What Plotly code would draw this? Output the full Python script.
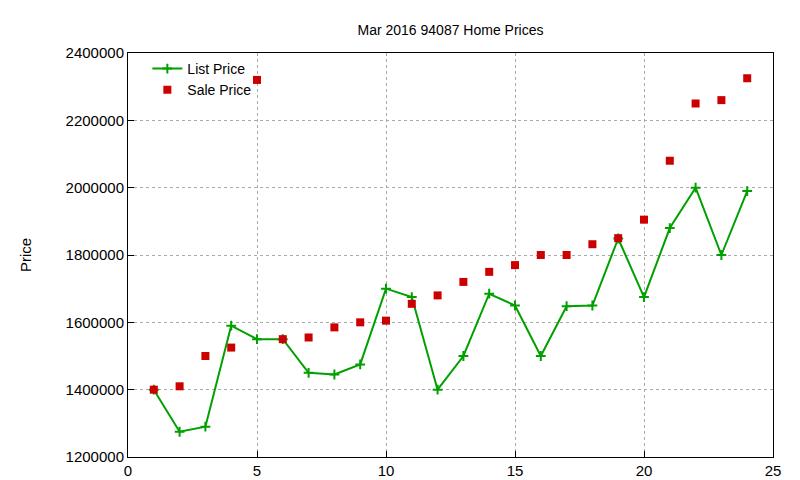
import plotly.graph_objects as go

months = list(range(1, 25))
list_price = [1400000, 1275000, 1290000, 1590000, 1550000, 1550000, 1450000, 1445000,
              1475000, 1700000, 1675000, 1400000, 1500000, 1685000, 1650000, 1500000,
              1648000, 1650000, 1849000, 1675000, 1880000, 2000000, 1800000, 1990000]
sale_price = [1400000, 1410000, 1500000, 1525000, 2320000, 1550000, 1555000, 1585000,
              1600000, 1605000, 1655000, 1680000, 1720000, 1750000, 1770000, 1800000,
              1800000, 1832000, 1850000, 1905000, 2080000, 2250000, 2260000, 2325000]

fig = go.Figure()
fig.add_trace(go.Scatter(x=months, y=list_price, name="List Price", mode="lines+markers",
                         line=dict(color="#00a000", width=2),
                         marker=dict(symbol="cross-thin", size=7, line=dict(color="#00a000", width=2))))
fig.add_trace(go.Scatter(x=months, y=sale_price, name="Sale Price", mode="markers",
                         marker=dict(symbol="square", size=8, color="#cc0000")))

axis_common = dict(showline=True, mirror=True, linecolor="black", linewidth=1,
                   showgrid=True, gridcolor="#aaaaaa", griddash="dot", gridwidth=1,
                   ticks="inside", ticklen=6, tickcolor="black", zeroline=False, automargin=False,
                   tickfont=dict(family="Liberation Sans, Arial", size=15, color="black"))
fig.update_xaxes(range=[0, 25], dtick=5, **axis_common)
fig.update_yaxes(range=[1200000, 2400000], dtick=200000, tickformat="d",
                 title=dict(text="Price", font=dict(family="Liberation Sans, Arial", size=15, color="black"), standoff=30),
                 **axis_common)
fig.update_layout(
    width=800, height=480, plot_bgcolor="white", paper_bgcolor="white",
    margin=dict(l=120, r=35, t=45, b=31),
    title=dict(text="Mar 2016 94087 Home Prices", x=0.5, xref="paper", y=0.955, xanchor="center", yanchor="middle",
               font=dict(family="Liberation Sans, Arial", size=14, color="black")),
    legend=dict(x=0.03, y=1.0, xanchor="left", yanchor="top", bgcolor="rgba(0,0,0,0)",
                font=dict(family="Liberation Sans, Arial", size=14, color="black"),
                tracegroupgap=0, itemwidth=30),
    showlegend=True,
)
fig.write_html("out.html")
